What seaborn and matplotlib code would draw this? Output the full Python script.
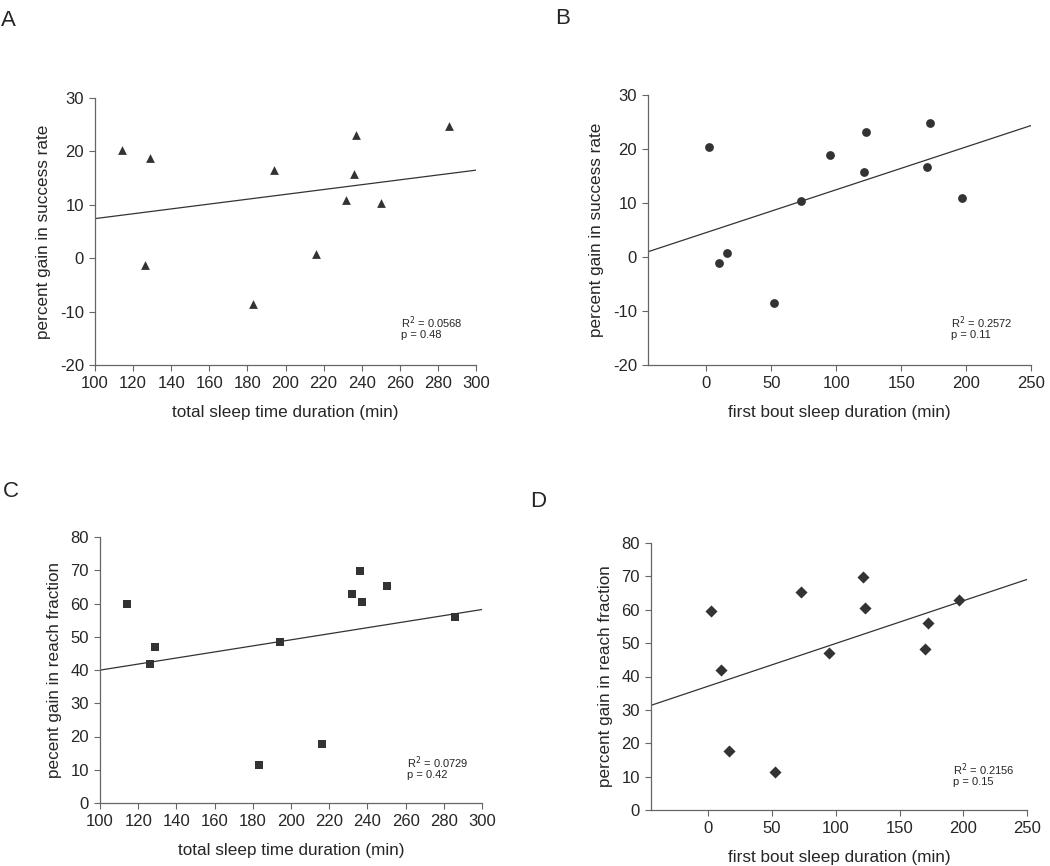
import numpy as np
import pandas as pd
import matplotlib
matplotlib.use("Agg")
import matplotlib.pyplot as plt
import seaborn as sns

sns.set_style("white")
plt.rcParams['font.family'] = ['Liberation Sans', 'DejaVu Sans']
plt.rcParams['axes.unicode_minus'] = False

# per-animal values
total_sleep = [114, 126, 129, 183, 194, 216, 232, 236, 237, 250, 286]
first_bout = [2, 10, 95, 52, 170, 16, 197, 121, 123, 73, 172]
success_gain = [20.3, -1.2, 18.8, -8.6, 16.6, 0.7, 10.9, 15.8, 23.1, 10.4, 24.8]
reach_gain = [59.7, 41.9, 46.9, 11.3, 48.3, 17.6, 63.0, 69.7, 60.5, 65.3, 55.9]

df = pd.DataFrame({'total': total_sleep, 'first': first_bout,
                   'success': success_gain, 'reach': reach_gain})

panels = [
    # letter, x col, y col, marker, xlabel, ylabel, xlim, xticks, ylim, yticks, stats
    ('A', 'total', 'success', '^', 'total sleep time duration (min)',
     'percent gain in success rate', (100, 300), range(100, 301, 20),
     (-20, 30), range(-20, 31, 10), ('0.0568', '0.48')),
    ('B', 'first', 'success', 'o', 'first bout sleep duration (min)',
     'percent gain in success rate', (-45, 250), range(0, 251, 50),
     (-20, 30), range(-20, 31, 10), ('0.2572', '0.11')),
    ('C', 'total', 'reach', 's', 'total sleep time duration (min)',
     'pecent gain in reach fraction', (100, 300), range(100, 301, 20),
     (0, 80), range(0, 81, 10), ('0.0729', '0.42')),
    ('D', 'first', 'reach', 'D', 'first bout sleep duration (min)',
     'percent gain in reach fraction', (-45, 250), range(0, 251, 50),
     (0, 80), range(0, 81, 10), ('0.2156', '0.15')),
]

W, H = 1050, 866
# axes boxes in pixels: left, top, right, bottom
boxes = [(95, 98, 476, 365), (648, 95, 1031, 365),
         (100, 537, 482, 803), (651, 543, 1027, 810)]
letters = [(1, 26), (555, 24), (3, 497), (530, 507)]
stat_pos = [(401, 323), (951, 323), (407, 763), (953, 770)]

fig = plt.figure(figsize=(W / 100, H / 100), dpi=100)
for p, box, lp, sp in zip(panels, boxes, letters, stat_pos):
    letter, xc, yc, mk, xl, yl, xlim, xt, ylim, yt, st = p
    l, t, r, b = box
    ax = fig.add_axes([l / W, 1 - b / H, (r - l) / W, (b - t) / H])
    ax.set_xlim(*xlim)
    ax.set_ylim(*ylim)
    ms = 40 if mk != 'D' else 38
    sns.regplot(data=df, x=xc, y=yc, ax=ax, ci=None, truncate=False,
                marker=mk, color='black',
                scatter_kws={'s': ms, 'linewidths': 0},
                line_kws={'color': '#333333', 'lw': 0.9})
    ax.set_xlim(*xlim)
    ax.set_ylim(*ylim)
    ax.set_xticks(list(xt))
    ax.set_yticks(list(yt))
    ax.set_xlabel(xl, fontsize=12.3, labelpad=10)
    ax.set_ylabel(yl, fontsize=12.3, labelpad=6)
    ax.tick_params(axis='both', labelsize=12, length=4, width=0.8,
                   color='#666666', direction='out', bottom=True, left=True,
                   pad=4)
    sns.despine(ax=ax)
    for s in ('left', 'bottom'):
        ax.spines[s].set_color('#666666')
        ax.spines[s].set_linewidth(0.9)
    fig.text(sp[0] / W, 1 - sp[1] / H, 'R$^2$ = ' + st[0], fontsize=8,
             va='center', ha='left')
    fig.text(sp[0] / W, 1 - (sp[1] + 12) / H, 'p = ' + st[1], fontsize=8,
             va='center', ha='left')
    fig.text(lp[0] / W, 1 - lp[1] / H, letter, fontsize=16, ha='left',
             va='baseline')

fig.savefig('out.png', dpi=100, facecolor='white')
